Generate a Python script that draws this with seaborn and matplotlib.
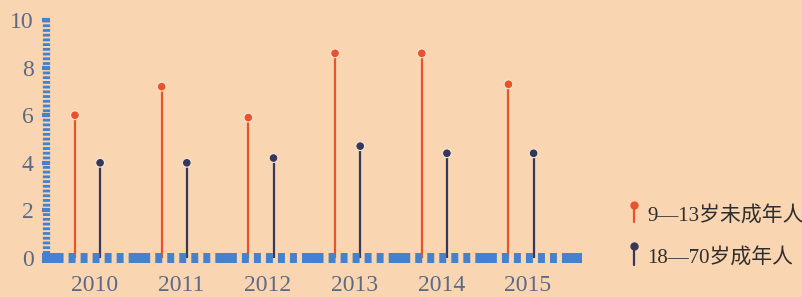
import numpy as np
import pandas as pd
import matplotlib
matplotlib.use('Agg')
import matplotlib.pyplot as plt
from matplotlib.lines import Line2D
import seaborn as sns

# Data
years = ['2010', '2011', '2012', '2013', '2014', '2015']
minors = [6.0, 7.2, 5.9, 8.6, 8.6, 7.3]      # 9-13 year olds
adults = [4.0, 4.0, 4.2, 4.7, 4.4, 4.4]      # 18-70 year olds
series_names = ['9—13岁未成年人', '18—70岁成年人']
y_ticks = [0, 2, 4, 6, 8, 10]

# Style
BG = '#f9d5b1'
AXIS_BLUE = '#4282d0'
ORANGE = '#e8532b'
NAVY = '#34385c'
LABEL_GRAY = '#5b6a86'

sns.set_style('white')
plt.rcParams['lines.scale_dashes'] = False
plt.rcParams['font.family'] = ['Liberation Serif', 'Noto Sans CJK SC', 'DejaVu Sans']

W, H = 803, 297
fig = plt.figure(figsize=(W / 100, H / 100), dpi=100, facecolor=BG)
ax = fig.add_axes([46 / W, 1 - 258 / H, (582 - 46) / W, (258 - 20) / H])
ax.set_facecolor(BG)

idx = np.arange(len(years))
off = 0.145
df = pd.DataFrame({
    'x': np.concatenate([idx - off, idx + off]),
    'value': minors + adults,
    'group': [series_names[0]] * len(years) + [series_names[1]] * len(years),
})

# Stems
ax.vlines(idx - off, 0, minors, color=ORANGE, lw=1.6, zorder=2)
ax.vlines(idx + off, 0, adults, color=NAVY, lw=1.6, zorder=2)

# Heads
sns.scatterplot(data=df, x='x', y='value', hue='group',
                palette={series_names[0]: ORANGE, series_names[1]: NAVY},
                s=40, edgecolor='#fbe6d2', linewidth=0.8, legend=False,
                ax=ax, zorder=3)

ax.set_xlim(-0.479, -0.479 + 536 / 86.7)
ax.set_ylim(0, 10)
for s in ax.spines.values():
    s.set_visible(False)

# Dashed left axis and block-pattern bottom axis
ax.add_line(Line2D([0, 0], [0, 1], transform=ax.transAxes, color=AXIS_BLUE,
                   lw=5.2, dashes=(2.0, 1.4), solid_capstyle='butt',
                   dash_capstyle='butt', clip_on=False, zorder=4))
ax.add_line(Line2D([-4 / 536, 1], [0, 0], transform=ax.transAxes, color=AXIS_BLUE,
                   lw=7.2, dashes=(15.5, 3.65, 5.0, 3.65, 5.0, 3.65, 5.0, 3.65,
                                   5.0, 3.65, 5.0, 3.65),
                   dash_capstyle='butt', clip_on=False, zorder=4))

ax.set_yticks(y_ticks)
ax.set_yticklabels([str(t) for t in y_ticks])
ax.tick_params(axis='y', direction='inout', length=6, width=3, color=AXIS_BLUE,
               labelcolor=LABEL_GRAY, labelsize=17, pad=6, left=True)
ax.set_xticks(idx + 0.08)
ax.set_xticklabels(years)
ax.tick_params(axis='x', length=0, labelcolor=LABEL_GRAY, labelsize=17, pad=12)
ax.set_xlabel('')
ax.set_ylabel('')

# Legend drawn as small stem icons
for (name, col, dot_y, end_y, text_y) in [
        (series_names[0], ORANGE, 205, 222, 216),
        (series_names[1], NAVY, 246, 265, 258)]:
    fig.add_artist(Line2D([634 / W, 634 / W], [1 - dot_y / H, 1 - end_y / H],
                          color=col, lw=1.6, transform=fig.transFigure))
    fig.add_artist(Line2D([634 / W], [1 - dot_y / H], marker='o', markersize=5,
                          color=col, markeredgecolor=col, transform=fig.transFigure))
    fig.text(647 / W, 1 - text_y / H, name, color='#2e2e2e', fontsize=15,
             va='center', ha='left')

fig.savefig('out.png', dpi=100, facecolor=BG)
